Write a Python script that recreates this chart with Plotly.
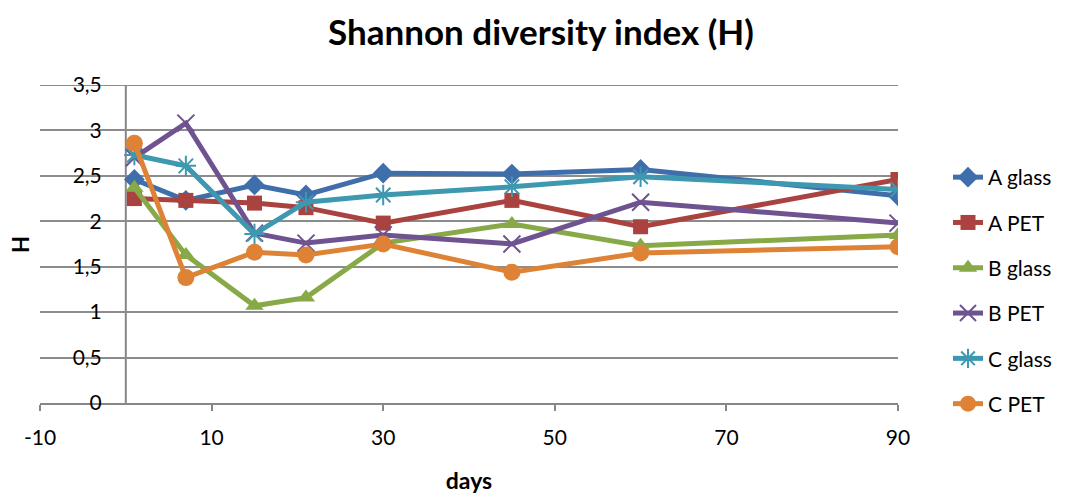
import plotly.graph_objects as go

days = [1, 7, 15, 21, 30, 45, 60, 90]
series_names = ["A glass", "A PET", "B glass", "B PET", "C glass", "C PET"]
a_glass = [2.46, 2.23, 2.40, 2.29, 2.53, 2.52, 2.57, 2.28]
a_pet = [2.25, 2.23, 2.20, 2.15, 1.98, 2.23, 1.94, 2.46]
b_glass = [2.37, 1.63, 1.07, 1.16, 1.76, 1.97, 1.73, 1.85]
b_pet = [2.70, 3.08, 1.87, 1.76, 1.85, 1.75, 2.21, 1.98]
c_glass = [2.73, 2.61, 1.86, 2.21, 2.29, 2.38, 2.49, 2.35]
c_pet = [2.86, 1.38, 1.66, 1.63, 1.75, 1.44, 1.65, 1.72]
values = [a_glass, a_pet, b_glass, b_pet, c_glass, c_pet]

x_ticks = [-10, 10, 30, 50, 70, 90]
x_tick_labels = ["-10", "10", "30", "50", "70", "90"]
y_ticks = [0, 0.5, 1, 1.5, 2, 2.5, 3, 3.5]
y_tick_labels = ["0", "0,5", "1", "1,5", "2", "2,5", "3", "3,5"]

colors = ["#3F6FAA", "#AA4240", "#87A947", "#6F5390", "#3D98B0", "#DE8335"]
symbols = ["diamond", "square", "triangle-up", "x-thin", "asterisk", "circle"]
sizes = [16, 15, 16, 17, 17, 17]

FONT = "Lato"
x_range = [-10, 90]
y_range = [0, 3.5]
GRID = "#8C8C8C"

fig = go.Figure()
# invisible helper trace so the offset value axis (y2) is rendered
fig.add_trace(go.Scatter(x=days, y=a_glass, yaxis="y2", mode="lines", opacity=0,
                         showlegend=False, hoverinfo="skip"))
for i, (name, vals, col, sym, sz) in enumerate(zip(series_names, values, colors, symbols, sizes)):
    thin = sym in ("x-thin", "asterisk")
    fig.add_trace(go.Scatter(
        x=days, y=vals, name=name, mode="lines+markers", legendgroup=f"g{i}",
        line=dict(color=col, width=5),
        marker=dict(symbol=sym, size=sz, color=col,
                    line=dict(color=col, width=2 if thin else 0)),
    ))

dom = [40 / 1082, 898 / 1082]
frac0 = dom[0] + (0 - x_range[0]) / (x_range[1] - x_range[0]) * (dom[1] - dom[0])
plot_top, plot_bot = 85, 403
def py(pix):
    return (plot_bot - pix) / (plot_bot - plot_top)

fig.update_layout(
    width=1082, height=494,
    margin=dict(l=0, r=0, t=plot_top, b=494 - plot_bot, autoexpand=False),
    paper_bgcolor="white", plot_bgcolor="white",
    font=dict(family=FONT, color="black", size=21),
    title=dict(text="<b>Shannon diversity index (H)</b>", x=0.5, xanchor="center",
               y=1 - 33 / 494, yanchor="middle", font=dict(size=35, family=FONT)),
    xaxis=dict(domain=dom, range=x_range, tickvals=x_ticks, ticktext=x_tick_labels,
               showgrid=False,
               zeroline=False, showline=True, linecolor="#878787", linewidth=2,
               ticks="outside", ticklen=6, tickwidth=2, tickcolor="#878787",
               tickfont=dict(size=21), ticklabelstandoff=9,
               title=dict(text="<b>days</b>", font=dict(size=23), standoff=25)),
    yaxis=dict(range=y_range, tickvals=y_ticks, showticklabels=False,
               showgrid=True, gridcolor=GRID, gridwidth=2, zeroline=False,
               showline=False, ticks=""),
    yaxis2=dict(overlaying="y", anchor="free", position=frac0, side="left",
                range=y_range, tickvals=y_ticks, ticktext=y_tick_labels,
                showgrid=False, zeroline=False, showline=False, ticks="",
                ticklabelstandoff=24, tickfont=dict(size=21)),
    legend=dict(x=948 / 1082, xanchor="left", y=py(157), yanchor="top",
                font=dict(size=21), tracegroupgap=15,
                bgcolor="rgba(0,0,0,0)"),
    shapes=[
        dict(type="line", xref="paper", yref="y", x0=dom[0], x1=dom[1],
             y0=y_ticks[-1], y1=y_ticks[-1], line=dict(color=GRID, width=2),
             layer="below"),
        dict(type="line", xref="x", yref="paper", x0=0, x1=0, y0=0, y1=1,
             line=dict(color="#878787", width=2), layer="below"),
    ],
    annotations=[dict(text="<b>H</b>", xref="paper", yref="paper", x=20 / 1082,
                      y=py(245), xanchor="center", yanchor="middle", textangle=-90,
                      showarrow=False, font=dict(size=22))],
)

fig.write_html("out.html")
